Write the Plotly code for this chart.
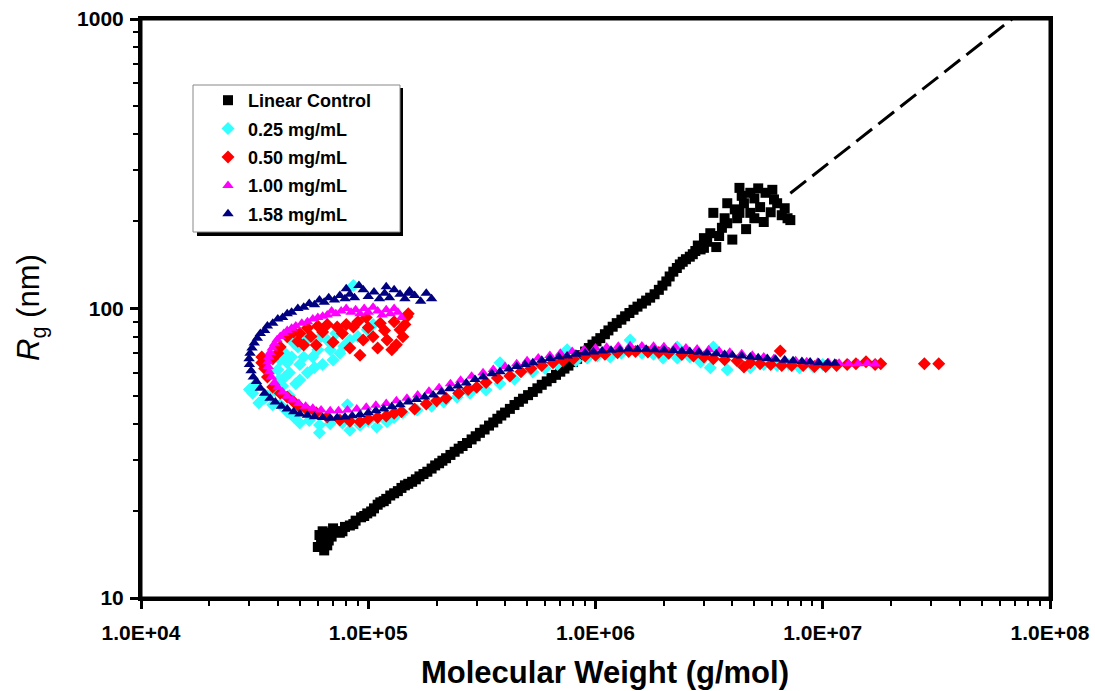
import plotly.graph_objects as go

# ---- data (MW in g/mol, Rg in nm) ----
linear_mw = [6.0e4, 6.1e4, 6.2e4, 6.4e4, 6.5e4, 6.7e4, 6.3e4, 6.9e4, 7.2e4, 7.5e4, 7.9e4, 8.3e4,
             8.8e4, 9.3e4, 9.9e4, 1.06e5, 1.13e5, 1.2e5, 1.3e5, 1.4e5, 1.5e5, 1.62e5, 1.75e5,
             1.9e5, 2.05e5, 2.2e5, 2.4e5, 2.6e5, 2.85e5, 3.1e5, 3.4e5, 3.7e5, 4.0e5, 4.4e5,
             4.8e5, 5.3e5, 5.8e5, 6.4e5, 7.0e5, 7.6e5, 8.3e5, 9.0e5, 9.7e5, 1.05e6, 1.14e6,
             1.24e6, 1.35e6, 1.47e6, 1.6e6, 1.74e6, 1.9e6, 2.05e6, 2.2e6, 2.35e6, 2.5e6, 2.6e6,
             2.75e6, 2.9e6, 3.1e6, 3.2e6, 3.4e6, 3.3e6, 3.6e6, 3.8e6, 3.8e6, 4.0e6, 4.2e6,
             4.3e6, 4.3e6, 4.5e6, 4.6e6, 4.8e6, 4.8e6, 5.0e6, 5.3e6, 5.5e6, 5.6e6, 5.9e6,
             6.0e6, 6.3e6, 6.6e6, 7.0e6, 7.2e6,
             6.6e4, 7.0e4, 7.7e4, 8.6e4, 9.6e4, 1.03e5, 1.1e5, 1.17e5, 1.25e5, 1.35e5, 1.45e5,
             1.56e5, 1.68e5, 1.82e5, 1.97e5, 2.12e5, 2.3e5, 2.5e5, 2.72e5, 2.97e5, 3.25e5,
             3.55e5, 3.85e5, 4.2e5, 4.6e5, 5.05e5, 5.55e5, 6.1e5, 6.7e5, 7.3e5, 7.95e5, 8.65e5,
             9.35e5, 1.01e6, 1.1e6, 1.19e6, 1.3e6, 1.41e6, 1.53e6, 1.67e6, 1.82e6, 1.97e6,
             2.12e6, 2.28e6, 2.42e6, 2.68e6, 2.82e6, 3.0e6, 3.0e6, 3.5e6, 3.7e6, 4.1e6, 4.4e6,
             5.2e6, 6.1e6, 6.8e6, 5.0e6]
linear_rg = [15.0, 16.5, 15.5, 14.6, 16.8, 15.8, 17.0, 16.3, 17.0, 16.8, 17.6, 17.8,
             18.5, 19.0, 19.6, 20.4, 21.4, 22.0, 23.0, 24.0, 24.8, 25.7, 26.8,
             28.0, 29.2, 30.4, 32.0, 33.5, 35.3, 37.2, 39.4, 41.6, 43.7, 46.4,
             48.8, 51.5, 54.5, 57.5, 60.5, 63.5, 67.0, 71.0, 75.0, 79.0, 84.0,
             89.0, 94.0, 99.0, 104, 109, 116, 124, 134, 142, 148, 151,
             158, 160, 170, 182, 163, 214, 190, 197, 231, 173, 205,
             261, 214, 231, 188, 251, 214, 240, 224, 199, 251, 215,
             257, 231, 210, 205, 202,
             15.2, 17.4, 17.0, 18.0, 19.2, 19.9, 21.0, 21.6, 22.6, 23.4, 24.5,
             25.2, 26.3, 27.3, 28.7, 29.8, 31.2, 32.8, 34.3, 36.2, 38.2,
             40.4, 42.7, 45.0, 47.6, 50.2, 53.0, 56.0, 59.0, 62.0, 65.3, 69.0,
             73.0, 77.0, 81.5, 86.5, 91.5, 96.5, 101.5, 106.5, 112, 120,
             129, 138, 145, 154, 165, 162, 175, 178, 205, 220, 245,
             260, 238, 222, 205]

# power-law extrapolation of the linear control (dashed)
fit_mw = [7.2e6, 6.8e7]
fit_rg = [250, 1000]

c025_mw = [8.6e4, 9.9e4, 8.3e4, 7.5e4, 7.0e4, 6.6e4, 6.0e4, 5.5e4, 4.9e4, 4.4e4, 4.5e4, 5.4e4,
           5.0e4, 4.1e4, 4.0e4, 4.3e4, 5.2e4, 6.3e4, 4.7e4, 5.8e4, 4.05e4, 4.2e4,
           7.8e4, 6.8e4, 5.7e4, 5.0e4, 4.6e4, 5.3e4, 6.2e4, 7.2e4, 9.0e4, 1.05e5, 4.3e4,
           4.8e4, 3.9e4, 4.5e4,
           3.0e4, 3.1e4, 3.2e4, 3.3e4, 3.5e4, 3.6e4, 3.8e4, 4.1e4, 4.4e4, 4.7e4, 5.0e4,
           5.5e4, 6.1e4, 6.1e4, 6.8e4, 7.7e4, 8.3e4, 8.1e4, 9.2e4, 1.0e5, 1.09e5, 1.21e5,
           1.3e5, 1.42e5, 1.64e5, 1.9e5, 2.15e5, 2.46e5, 2.8e5, 3.3e5, 3.8e5, 3.8e5,
           4.4e5, 5.3e5, 6.0e5, 6.8e5, 7.5e5, 8.2e5, 9.2e5, 1.02e6, 1.16e6, 1.3e6,
           1.42e6, 1.6e6, 1.8e6, 1.98e6, 2.29e6, 2.29e6, 2.6e6, 2.9e6, 3.2e6, 3.3e6,
           3.8e6, 4.3e6, 4.8e6, 5.5e6, 6.3e6, 7.1e6, 7.9e6, 9.1e6, 1.0e7]
c025_rg = [120, 84.4, 77.8, 70, 66.4, 77.8, 72, 80, 73.6, 65, 60, 60,
           56.6, 66.4, 61.4, 70, 68, 64, 76, 62.5, 57, 54,
           74, 72, 68, 64, 68, 77, 80, 82, 80, 88, 58,
           55, 52, 50,
           52.5, 51, 55, 47.2, 49, 50, 46.5, 46.5, 44, 42.2, 40.2,
           41, 39.6, 37.2, 40, 40.2, 38, 46.5, 39.5, 40.8, 39, 40.6,
           42, 43.6, 44.6, 46, 47.5, 49.4, 51, 52.3, 55, 65,
           57, 60.4, 62, 64, 72, 66, 67.5, 68.5, 68, 70,
           77.8, 70, 69.5, 67.5, 67.5, 73.6, 68, 65.3, 62.4, 73.6,
           61.4, 65, 62.4, 64, 63.5, 64, 62.4, 62.8, 64]

c050_mw = [1.48e5, 1.42e5, 1.27e5, 1.21e5, 1.05e5, 9.5e4, 9.2e4, 8.3e4, 7.7e4, 7.0e4, 6.3e4,
           5.9e4, 5.2e4, 5.0e4, 4.4e4, 4.1e4, 1.38e5, 1.13e5, 8.6e4, 7.3e4, 5.4e4, 4.7e4,
           1.45e5, 1.3e5, 1.18e5, 1.0e5, 9.0e4, 8.0e4, 6.6e4, 6.0e4, 5.6e4, 4.9e4, 1.33e5,
           1.1e5, 1.5e5, 9.8e4,
           4.0e4, 3.8e4, 3.4e4, 3.4e4, 3.5e4, 3.6e4, 3.8e4, 4.1e4, 4.4e4, 4.7e4, 5.0e4,
           5.4e4, 5.9e4, 6.6e4, 7.5e4, 8.3e4, 9.2e4, 1.0e5, 1.1e5, 1.2e5, 1.3e5, 1.4e5,
           1.6e5, 1.8e5, 2.0e5, 2.2e5, 2.5e5, 2.75e5, 3.0e5, 3.3e5, 3.7e5, 4.2e5, 4.7e5,
           5.2e5, 5.8e5, 6.5e5, 7.2e5, 8.0e5, 9.0e5, 1.0e6, 1.1e6, 1.25e6, 1.4e6, 1.5e6,
           1.7e6, 1.9e6, 2.1e6, 2.4e6, 2.7e6, 3.0e6, 3.3e6, 3.7e6, 4.2e6, 4.5e6, 4.8e6,
           5.3e6, 5.9e6, 6.5e6, 6.6e6, 7.3e6, 8.2e6, 9.2e6, 1.03e7, 1.15e7, 1.28e7, 1.4e7,
           1.55e7, 1.7e7, 1.8e7, 2.8e7, 3.24e7]
c050_rg = [93.6, 79.8, 72, 77.8, 79.8, 77.8, 69, 73, 82, 76.5, 83,
           74.8, 74.8, 82, 79.8, 73.6, 84.4, 89, 86.3, 86.3, 85.7, 83,
           88, 90, 84, 86, 90, 88, 88, 87, 80, 77, 75,
           73, 96, 93,
           70, 67, 65, 68, 62, 58, 53.6, 51, 49.5, 47.5, 45.7,
           44.5, 43.6, 42.2, 41.2, 40.8, 40.6, 41.5, 42, 42.5, 43.5, 44,
           45, 46.8, 48, 49, 51, 52.5, 53.5, 55.5, 57.5, 58.5, 60.5,
           62, 63.5, 65, 66, 67, 68.5, 69, 69.5, 70.3, 71, 71,
           70.8, 70.5, 70, 69.3, 68.5, 68, 67, 66.5, 66, 62.8, 65,
           64.5, 64, 71.3, 63.5, 63.5, 63.5, 63, 63, 63.5, 64, 64.5,
           65.5, 64, 64.5, 64.5, 64.5]

c100_mw = [1.4e5, 1.35e5, 1.3e5, 1.25e5, 1.2e5, 1.15e5, 1.1e5, 1.05e5, 1.0e5, 9.6e4, 9.2e4,
           8.8e4, 8.4e4, 8.0e4, 7.6e4, 7.2e4, 6.9e4, 6.6e4, 6.3e4, 6.0e4, 5.7e4, 5.4e4,
           5.1e4, 4.8e4, 4.6e4, 4.4e4, 4.25e4, 4.1e4, 3.97e4, 3.87e4, 3.78e4, 3.7e4, 3.65e4,
           3.62e4, 3.63e4, 3.67e4, 3.75e4, 3.87e4, 4.0e4, 4.2e4, 4.4e4, 4.65e4, 4.95e4,
           5.3e4, 5.7e4, 6.2e4, 6.8e4, 7.4e4, 8.1e4, 8.9e4, 9.8e4, 1.08e5, 1.2e5, 1.33e5,
           1.48e5, 1.65e5, 1.85e5, 2.05e5, 2.3e5, 2.55e5, 2.85e5, 3.2e5, 3.55e5, 4.0e5,
           4.5e5, 5.0e5, 5.6e5, 6.3e5, 7.0e5, 7.9e5, 8.9e5, 1.0e6, 1.12e6, 1.26e6, 1.42e6,
           1.6e6, 1.8e6, 2.0e6, 2.25e6, 2.5e6, 2.8e6, 3.15e6, 3.5e6, 3.9e6, 4.4e6, 4.9e6,
           5.5e6, 6.1e6, 6.8e6, 7.6e6, 8.5e6, 9.5e6, 1.06e7, 1.18e7, 1.3e7, 1.43e7, 1.57e7,
           1.7e7]
c100_rg = [93, 97, 100, 96, 99, 95, 98, 101, 97, 100, 96,
           99, 97, 100, 98, 96, 98, 95, 94, 93, 92, 90,
           89, 87, 85.5, 84, 82, 80, 78, 75.5, 73, 70.5, 68,
           65.5, 63, 60.5, 58, 55.5, 53.5, 51.5, 49.8, 48.3, 47,
           46, 45.2, 44.6, 44.3, 44.3, 44.6, 45, 45.6, 46.3, 47, 48,
           49, 50.3, 51.8, 53.2, 55, 56.5, 58.3, 60, 61.5, 63,
           64.5, 66, 67.5, 68.8, 70, 71, 72, 73, 73.5, 74, 74.3,
           74.2, 74, 73.8, 73.5, 73, 72.5, 72, 71.3, 70.6, 69.8, 69,
           68, 67.2, 66.5, 66, 65.5, 65.2, 64.9, 64.7, 64.5, 64.4, 64.6,
           64.3]

c158_mw = [1.9e5, 1.8e5, 1.7e5, 1.6e5, 1.52e5, 1.45e5, 1.38e5, 1.3e5, 1.24e5, 1.18e5, 1.12e5,
           1.06e5, 1.0e5, 9.5e4, 9.1e4, 8.7e4, 8.3e4, 7.9e4, 7.5e4, 7.1e4, 6.7e4, 6.4e4,
           6.1e4, 5.8e4, 5.5e4, 5.2e4, 4.9e4, 4.6e4, 4.4e4, 4.2e4, 4.0e4, 3.8e4, 3.6e4,
           3.5e4, 3.35e4, 3.25e4, 3.15e4, 3.08e4, 3.02e4, 2.99e4, 3.0e4, 3.05e4, 3.12e4,
           3.22e4, 3.35e4, 3.5e4, 3.7e4, 3.9e4, 4.15e4, 4.4e4, 4.7e4, 5.0e4, 5.4e4, 5.8e4,
           6.3e4, 6.8e4, 7.3e4, 7.9e4, 8.5e4, 9.2e4, 1.0e5, 1.08e5, 1.17e5, 1.27e5, 1.38e5,
           1.5e5, 1.63e5, 1.77e5, 1.93e5, 2.1e5, 2.28e5, 2.48e5, 2.7e5, 2.95e5, 3.2e5,
           3.5e5, 3.8e5, 4.15e5, 4.5e5, 4.9e5, 5.3e5, 5.8e5, 6.3e5, 6.9e5, 7.5e5, 8.2e5,
           9.0e5, 9.8e5, 1.07e6, 1.17e6, 1.28e6, 1.4e6, 1.53e6, 1.67e6, 1.82e6, 2.0e6,
           2.2e6, 2.4e6, 2.6e6, 2.85e6, 3.1e6, 3.4e6, 3.7e6, 4.0e6, 4.4e6, 4.8e6, 5.2e6,
           5.7e6, 6.2e6, 6.8e6, 7.4e6, 8.1e6, 8.8e6, 9.6e6, 1.05e7, 1.13e7,
           1.2e5, 1.5e5, 8.0e4]
c158_rg = [108, 113, 106, 111, 115, 108, 112, 116, 109, 113, 108,
           114, 110, 116, 120, 109, 112, 108, 111, 107, 109, 105,
           107, 103, 104, 101, 100, 97, 96, 93, 92, 89, 87,
           84, 82, 79, 76, 73, 70, 67, 64, 61, 58,
           56, 53, 51, 49, 47.5, 46, 45, 44, 43.2, 42.8, 42.3,
           42, 41.8, 42, 42.2, 42.6, 43, 43.6, 44.3, 45, 45.8, 46.5,
           47.5, 48.5, 49.5, 50.3, 51.5, 52.8, 54, 55.3, 56.8, 58,
           59.5, 60.5, 61.8, 63, 64, 65, 66.2, 67.2, 68, 68.6, 69.5,
           70.2, 70.8, 71.3, 71.8, 72, 72.4, 72.2, 72.3, 72.0, 71.9,
           71.6, 71.2, 71, 70.6, 70.2, 69.8, 69.3, 69, 68.5, 68, 67.6,
           67.2, 66.8, 66.3, 66, 65.6, 65.3, 65, 64.8, 64.7,
           119, 113, 117]

x_tickvals = [1e4, 1e5, 1e6, 1e7, 1e8]
x_ticktext = ["1.0E+04", "1.0E+05", "1.0E+06", "1.0E+07", "1.0E+08"]
y_tickvals = [10, 100, 1000]
y_ticktext = ["10", "100", "1000"]

FONT = "Arial, Liberation Sans, sans-serif"

fig = go.Figure()

series = [
    ("Linear Control", linear_mw, linear_rg, "square", "#000000", 10),
    ("0.25 mg/mL", c025_mw, c025_rg, "diamond", "#33FFFF", 10),
    ("0.50 mg/mL", c050_mw, c050_rg, "diamond", "#FF0000", 10),
    ("1.00 mg/mL", c100_mw, c100_rg, "triangle-up", "#FF00FF", 10),
    ("1.58 mg/mL", c158_mw, c158_rg, "triangle-up", "#000080", 10),
]
for i, (name, xs, ys, sym, col, sz) in enumerate(series):
    fig.add_trace(go.Scatter(x=xs, y=ys, mode="markers", name=name, legendgroup=str(i),
                             marker=dict(symbol=sym, color=col, size=sz, line=dict(width=0))))

fig.add_trace(go.Scatter(x=fit_mw, y=fit_rg, mode="lines", showlegend=False,
                         line=dict(color="black", width=3, dash="20px,8px")))

# page pixels -> paper coords (plot box spans 141..1050 x 19..598)
def px_x(p):
    return (p - 141) / 909

def px_y(p):
    return 1 - (p - 19) / 579

# legend frame with drop shadow
fig.add_shape(type="rect", xref="paper", yref="paper", layer="above",
              x0=px_x(197), x1=px_x(403), y0=px_y(236), y1=px_y(88),
              fillcolor="black", line=dict(width=0))
fig.add_shape(type="rect", xref="paper", yref="paper", layer="above",
              x0=px_x(193), x1=px_x(400), y0=px_y(232), y1=px_y(85),
              fillcolor="white", line=dict(color="#888888", width=1))
# plot frame (top / right edges)
fig.add_shape(type="rect", xref="paper", yref="paper", layer="above",
              x0=0, x1=1, y0=0, y1=1, line=dict(color="black", width=3))

axis_common = dict(type="log", showgrid=False, zeroline=False, showline=True,
                   linecolor="black", linewidth=3, mirror=True, ticks="outside",
                   ticklen=8, tickwidth=3, tickcolor="black", automargin=False,
                   ticklabeloverflow="allow",
                   tickfont=dict(family=FONT, size=21, color="black", weight="bold"),
                   minor=dict(ticks="outside", ticklen=5, tickwidth=2, tickcolor="black",
                              dtick="D1", showgrid=False))

fig.update_xaxes(range=[4, 8], tickvals=x_tickvals, ticktext=x_ticktext,
                 ticklabelstandoff=6, **axis_common)
fig.update_yaxes(range=[1, 3], tickvals=y_tickvals, ticktext=y_ticktext,
                 ticklabelstandoff=2, **axis_common)

fig.add_annotation(text="Molecular Weight (g/mol)", xref="paper", yref="paper",
                   x=px_x(605), y=px_y(672), xanchor="center", yanchor="middle",
                   showarrow=False,
                   font=dict(family=FONT, size=31, color="black", weight="bold"))
fig.add_annotation(text="<i>R</i><sub>g</sub> (nm)", xref="paper", yref="paper",
                   x=px_x(31), y=px_y(308), xanchor="center", yanchor="middle",
                   showarrow=False, textangle=-90,
                   font=dict(family=FONT, size=31, color="black"))

fig.update_layout(
    width=1095, height=691,
    margin=dict(l=141, r=45, t=19, b=93, autoexpand=False),
    paper_bgcolor="white", plot_bgcolor="white",
    showlegend=True,
    legend=dict(x=px_x(208), y=px_y(82), xanchor="left", yanchor="top",
                bgcolor="rgba(0,0,0,0)", borderwidth=0, traceorder="grouped",
                tracegroupgap=2,
                font=dict(family=FONT, size=18, color="black", weight="bold")),
)

# drop the browser's default body margin so the figure sits at the page origin
fig.write_html("out.html", config={"displayModeBar": False},
               post_script="document.body.style.margin='0';")
